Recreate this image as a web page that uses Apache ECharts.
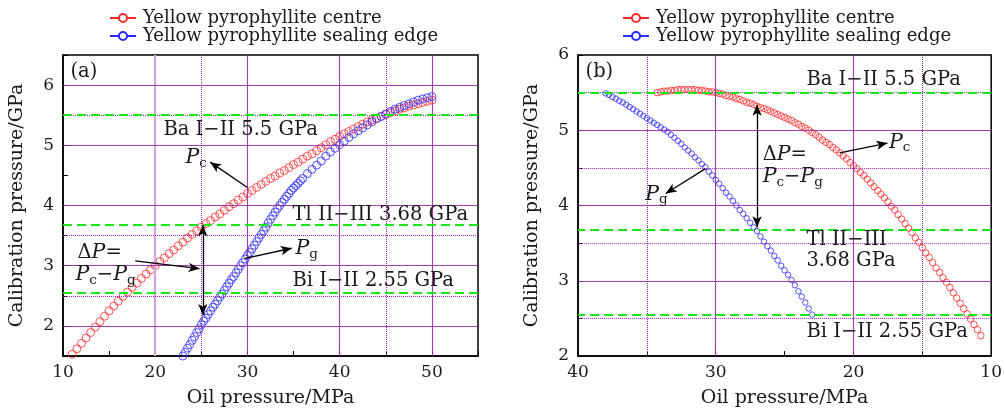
<!DOCTYPE html>
<html>
<head>
<meta charset="utf-8">
<script src="https://cdn.jsdelivr.net/npm/echarts@6/dist/echarts.min.js"></script>
<style>
html, body { margin: 0; padding: 0; background: #fff; }
#chart { width: 1005px; height: 416px; }
</style>
</head>
<body>
<div id="chart"></div>
<script>
// (a) loading: calibration pressure vs oil pressure
var aCentre = [[11.0,1.53],[11.5,1.62],[12.0,1.71],[12.5,1.80],[13.0,1.89],[13.5,1.98],[14.0,2.07],[14.5,2.16],
	[15.0,2.25],[15.5,2.33],[16.0,2.41],[16.5,2.49],[17.0,2.56],[17.5,2.64],[18.0,2.71],[18.5,2.79],[19.0,2.86],
	[19.5,2.93],[20.0,3.00],[20.5,3.07],[21.0,3.13],[21.5,3.20],[22.0,3.26],[22.5,3.33],[23.0,3.39],[23.5,3.46],
	[24.0,3.52],[24.5,3.58],[25.0,3.64],[25.5,3.70],[26.0,3.75],[26.5,3.81],[27.0,3.86],[27.5,3.92],[28.0,3.98],
	[28.5,4.03],[29.0,4.09],[29.5,4.14],[30.0,4.20],[30.5,4.25],[31.0,4.30],[31.5,4.35],[32.0,4.40],[32.5,4.45],
	[33.0,4.49],[33.5,4.54],[34.0,4.58],[34.5,4.63],[35.0,4.68],[35.5,4.72],[36.0,4.77],[36.5,4.82],[37.0,4.86],
	[37.5,4.91],[38.0,4.96],[38.5,5.01],[39.0,5.06],[39.5,5.10],[40.0,5.15],[40.5,5.19],[41.0,5.23],[41.5,5.27],
	[42.0,5.31],[42.5,5.35],[43.0,5.39],[43.5,5.42],[44.0,5.45],[44.5,5.48],[45.0,5.51],[45.5,5.54],[46.0,5.57],
	[46.5,5.60],[47.0,5.62],[47.5,5.65],[48.0,5.67],[48.5,5.69],[49.0,5.71],[49.5,5.73],[50.0,5.75]];
var aEdge = [[23.00,1.50],[23.25,1.56],[23.50,1.63],[23.75,1.69],[24.00,1.76],[24.25,1.82],[24.50,1.89],[24.75,1.95],
	[25.00,2.02],[25.25,2.08],[25.50,2.13],[25.75,2.19],[26.00,2.25],[26.25,2.31],[26.50,2.36],[26.75,2.42],
	[27.00,2.48],[27.25,2.53],[27.50,2.59],[27.75,2.65],[28.00,2.71],[28.25,2.77],[28.50,2.82],[28.75,2.88],
	[29.00,2.94],[29.25,3.00],[29.50,3.05],[29.75,3.11],[30.00,3.17],[30.25,3.22],[30.50,3.28],[30.75,3.34],
	[31.00,3.40],[31.25,3.46],[31.50,3.52],[31.75,3.58],[32.00,3.64],[32.25,3.71],[32.50,3.77],[32.75,3.83],
	[33.00,3.89],[33.25,3.95],[33.50,4.00],[33.75,4.05],[34.00,4.10],[34.25,4.15],[34.50,4.20],[34.75,4.25],
	[35.00,4.29],[35.25,4.33],[35.50,4.37],[35.75,4.41],[36.00,4.45],[36.5,4.53],[37.0,4.60],[37.5,4.67],
	[38.0,4.74],[38.5,4.82],[39.0,4.89],[39.5,4.95],[40.0,5.01],[40.5,5.07],[41.0,5.13],[41.5,5.19],[42.0,5.24],
	[42.5,5.29],[43.0,5.34],[43.5,5.39],[44.0,5.44],[44.5,5.48],[45.0,5.52],[45.5,5.56],[46.0,5.60],[46.5,5.63],
	[47.0,5.66],[47.5,5.69],[48.0,5.72],[48.5,5.75],[49.0,5.77],[49.5,5.79],[50.0,5.81]];

// (b) unloading
var bCentre = [[34.25,5.50],[34.00,5.51],[33.75,5.52],[33.50,5.52],[33.25,5.53],[33.00,5.53],[32.75,5.54],[32.50,5.54],
	[32.25,5.54],[32.00,5.54],[31.75,5.54],[31.50,5.54],[31.25,5.53],[31.00,5.53],[30.75,5.52],[30.50,5.51],
	[30.25,5.51],[30.00,5.50],[29.75,5.49],[29.50,5.48],[29.25,5.46],[29.00,5.45],[28.75,5.44],[28.50,5.42],
	[28.25,5.41],[28.00,5.39],[27.75,5.37],[27.50,5.36],[27.25,5.34],[27.00,5.32],[26.75,5.30],[26.50,5.29],
	[26.25,5.27],[26.00,5.25],[25.75,5.23],[25.50,5.21],[25.25,5.19],[25.00,5.17],[24.75,5.15],[24.50,5.13],
	[24.25,5.10],[24.00,5.08],[23.75,5.05],[23.50,5.03],[23.25,5.00],[23.00,4.97],[22.75,4.94],[22.50,4.91],
	[22.25,4.87],[22.00,4.84],[21.75,4.81],[21.50,4.77],[21.25,4.74],[21.00,4.70],[20.75,4.66],[20.50,4.62],
	[20.25,4.57],[20.00,4.53],[19.75,4.49],[19.50,4.44],[19.25,4.40],[19.00,4.35],[18.75,4.30],[18.50,4.25],
	[18.25,4.20],[18.00,4.15],[17.75,4.10],[17.50,4.05],[17.25,3.99],[17.00,3.94],[16.75,3.88],[16.50,3.82],
	[16.25,3.76],[16.00,3.70],[15.75,3.64],[15.50,3.57],[15.25,3.51],[15.00,3.44],[14.75,3.37],[14.50,3.31],
	[14.25,3.24],[14.00,3.17],[13.75,3.11],[13.50,3.04],[13.25,2.98],[13.00,2.91],[12.75,2.84],[12.50,2.77],
	[12.25,2.70],[12.00,2.63],[11.75,2.56],[11.50,2.49],[11.25,2.42],[11.00,2.35],[10.75,2.27]];
var bEdge = [[38.00,5.49],[37.75,5.47],[37.50,5.44],[37.25,5.42],[37.00,5.39],[36.75,5.37],[36.50,5.34],[36.25,5.31],
	[36.00,5.28],[35.75,5.25],[35.50,5.22],[35.25,5.19],[35.00,5.16],[34.75,5.13],[34.50,5.10],[34.25,5.07],
	[34.00,5.04],[33.75,5.01],[33.50,4.98],[33.25,4.94],[33.00,4.90],[32.75,4.86],[32.50,4.82],[32.25,4.77],
	[32.00,4.73],[31.75,4.69],[31.50,4.64],[31.25,4.60],[31.00,4.55],[30.75,4.51],[30.50,4.45],[30.25,4.40],
	[30.00,4.34],[29.75,4.29],[29.50,4.23],[29.25,4.17],[29.00,4.12],[28.75,4.06],[28.50,4.00],[28.25,3.94],
	[28.00,3.89],[27.75,3.83],[27.50,3.77],[27.25,3.71],[27.00,3.66],[26.75,3.59],[26.50,3.52],[26.25,3.46],
	[26.00,3.40],[25.75,3.33],[25.50,3.27],[25.25,3.20],[25.00,3.14],[24.75,3.08],[24.50,3.01],[24.25,2.94],
	[24.00,2.86],[23.75,2.79],[23.50,2.71],[23.25,2.63],[23.00,2.55]];

var calibLevels = [5.5, 3.68, 2.55]; // Ba I-II, Tl II-III, Bi I-II

// grid lines as drawn in the figure
var aSolidX = [30, 40, 50], aSoftX = [20], aDotX = [25, 45];
var aSolidY = [2, 3, 4, 5, 6], aDotY = [2.5, 3.5, 5.5];
var bSolidX = [30, 20], bDotX = [35, 15];
var bSolidY = [3, 4, 5], bDotY = [2.5, 3.5, 4.5, 5.5];

var nameCentre = 'Yellow pyrophyllite centre';
var nameEdge = 'Yellow pyrophyllite sealing edge';
var RED = '#ff2a2a', BLUE = '#2a2aff';
var FONT = 'DejaVu Serif';
var INK = '#1a1a1a';

var rich = {
	r: { fontFamily: FONT, fontSize: 19.5, lineHeight: 25, color: INK },
	i: { fontFamily: FONT, fontSize: 20.5, fontStyle: 'italic', lineHeight: 25, color: INK },
	s: { fontFamily: FONT, fontSize: 13.5, lineHeight: 13, verticalAlign: 'bottom', color: INK }
};
var PC = '{i|P}{s|c}', PG = '{i|P}{s|g}';

function gridLines(sx, soft, dx, sy, dy) {
	var solid = { color: '#9a2aa8', width: 1.1, type: 'solid', opacity: 0.9 };
	var dot = { color: '#a020c0', width: 1, type: 'dotted' };
	var res = [];
	sx.forEach(function (v) { res.push({ xAxis: v, lineStyle: solid }); });
	soft.forEach(function (v) { res.push({ xAxis: v, lineStyle: { color: '#cfa6da', width: 2.2, type: 'solid' } }); });
	dx.forEach(function (v) { res.push({ xAxis: v, lineStyle: dot }); });
	sy.forEach(function (v) { res.push({ yAxis: v, lineStyle: solid }); });
	dy.forEach(function (v) { res.push({ yAxis: v, lineStyle: dot }); });
	return res;
}
function greenLines() {
	return calibLevels.map(function (v) {
		return { yAxis: v, lineStyle: { color: '#19e619', width: 2, type: [9, 5] } };
	});
}
function arrow(p1, p2, both) {
	return [{ coord: p1, symbol: both ? 'arrow' : 'none' }, { coord: p2, symbol: 'arrow' }];
}
function note(p, text) {
	return { coord: p, value: 0, label: { formatter: text } };
}

function backSeries(gi, lines, z) {
	return {
		type: 'line', xAxisIndex: gi, yAxisIndex: gi, data: [], z: z, silent: true,
		markLine: { silent: true, animation: false, symbol: ['none', 'none'], label: { show: false }, data: lines }
	};
}
function frontSeries(gi, arrows, notes) {
	return {
		type: 'line', xAxisIndex: gi, yAxisIndex: gi, data: [], z: 6, silent: true,
		markLine: {
			silent: true, animation: false, symbolSize: [7, 11], label: { show: false },
			lineStyle: { color: '#000', width: 1.3, type: 'solid' }, data: arrows
		},
		markPoint: {
			silent: true, animation: false, symbol: 'rect', symbolSize: 1,
			itemStyle: { color: 'transparent' },
			label: {
				show: true, position: 'right', distance: 0, align: 'left', verticalAlign: 'middle',
				fontFamily: FONT, fontSize: 19.5, color: INK, rich: rich
			},
			data: notes
		}
	};
}
function dots(gi, name, data, color, size) {
	return {
		type: 'scatter', name: name + ' ', xAxisIndex: gi, yAxisIndex: gi, data: data, z: 3,
		symbol: 'circle', symbolSize: size, silent: true, animation: false,
		itemStyle: { color: 'transparent', borderColor: color, borderWidth: 1 }
	};
}
function legendSeries(name, color) {
	return {
		type: 'line', name: name, data: [], xAxisIndex: 0, yAxisIndex: 0,
		color: color, symbol: 'emptyCircle', symbolSize: 7,
		lineStyle: { color: color, width: 1.2 }, itemStyle: { color: color, borderWidth: 1.2 }
	};
}
function xAx(gi, min, max, inverse) {
	return {
		type: 'value', gridIndex: gi, min: min, max: max, interval: 5, inverse: inverse,
		name: 'Oil pressure/MPa', nameLocation: 'middle', nameGap: 33,
		nameTextStyle: { fontFamily: FONT, fontSize: 19, color: INK },
		axisLine: { lineStyle: { color: '#000', width: 1.5 } },
		axisTick: { inside: true, length: 5, lineStyle: { color: '#000' } },
		axisLabel: {
			margin: 8, fontFamily: FONT, fontSize: 17, color: INK,
			formatter: function (v) { return v % 10 === 0 ? String(v) : ''; }
		},
		splitLine: { show: false }
	};
}
function yAx(gi, min, max) {
	return {
		type: 'value', gridIndex: gi, min: min, max: max, interval: 0.5,
		name: 'Calibration pressure/GPa', nameLocation: 'middle', nameGap: 36, nameRotate: 90,
		nameTextStyle: { fontFamily: FONT, fontSize: 19, color: INK },
		axisLine: { lineStyle: { color: '#000', width: 1.5 } },
		axisTick: { inside: true, length: 5, lineStyle: { color: '#000' } },
		axisLabel: {
			margin: 9, fontFamily: FONT, fontSize: 17, color: INK,
			formatter: function (v) { return Math.abs(v - Math.round(v)) < 1e-6 ? String(Math.round(v)) : ''; }
		},
		splitLine: { show: false }
	};
}
function legendAt(left) {
	return {
		left: left, top: 4, orient: 'vertical', selectedMode: false,
		itemWidth: 26, itemHeight: 10, itemGap: 0,
		textStyle: { fontFamily: FONT, fontSize: 18, color: INK, padding: [0, 0, 0, 2] },
		data: [nameCentre, nameEdge]
	};
}

var aArrows = [
	arrow([30.0, 4.30], [25.96, 4.72]),
	arrow([17.83, 3.08], [24.8, 2.95]),
	arrow([25.16, 2.18], [25.16, 3.67], true),
	arrow([29.75, 3.12], [34.8, 3.29])
];
var aNotes = [
	note([10.76, 6.22], '(a)'),
	note([20.84, 5.25], 'Ba I\u2212II 5.5 GPa'),
	note([23.23, 4.79], PC),
	note([34.83, 3.84], 'Tl II\u2212III 3.68 GPa'),
	note([11.52, 3.21], '{r|\u0394}{i|P}{r|=}'),
	note([11.3, 2.85], PC + '{r|\u2212}' + PG),
	note([35.16, 3.28], PG),
	note([34.83, 2.75], 'Bi I\u2212II 2.55 GPa')
];
var bArrows = [
	arrow([27.0, 3.71], [27.0, 5.34], true),
	arrow([21.0, 4.70], [17.53, 4.83]),
	arrow([30.74, 4.49], [33.63, 4.16])
];
var bNotes = [
	note([39.49, 5.77], '(b)'),
	note([23.45, 5.67], 'Ba I\u2212II 5.5 GPa'),
	note([26.63, 4.67], '{r|\u0394}{i|P}{r|=}'),
	note([26.63, 4.38], PC + '{r|\u2212}' + PG),
	note([17.45, 4.84], PC),
	note([35.16, 4.15], PG),
	note([23.45, 3.54], 'Tl II\u2212III'),
	note([23.45, 3.26], '3.68 GPa'),
	note([23.45, 2.32], 'Bi I\u2212II 2.55 GPa')
];

var chart = echarts.init(document.getElementById('chart'), null, { renderer: 'canvas' });
chart.setOption({
	animation: false,
	backgroundColor: '#fff',
	legend: [legendAt(104), legendAt(617)],
	grid: [
		{ left: 63, top: 55, width: 415, height: 301, show: true, borderColor: '#000', borderWidth: 1.5 },
		{ left: 578, top: 55, width: 415, height: 301, show: true, borderColor: '#000', borderWidth: 1.5 }
	],
	xAxis: [xAx(0, 10, 55, false), xAx(1, 10, 40, true)],
	yAxis: [yAx(0, 1.5, 6.5), yAx(1, 2, 6)],
	series: [
		legendSeries(nameCentre, RED),
		legendSeries(nameEdge, BLUE),
		backSeries(0, gridLines(aSolidX, aSoftX, aDotX, aSolidY, aDotY), 1),
		backSeries(1, gridLines(bSolidX, [], bDotX, bSolidY, bDotY), 1),
		dots(0, nameCentre, aCentre, RED, 8),
		dots(0, nameEdge, aEdge, BLUE, 8),
		dots(1, nameCentre, bCentre, RED, 6.5),
		dots(1, nameEdge, bEdge, BLUE, 5.5),
		backSeries(0, greenLines(), 4),
		backSeries(1, greenLines(), 4),
		frontSeries(0, aArrows, aNotes),
		frontSeries(1, bArrows, bNotes)
	]
});
</script>
</body>
</html>
